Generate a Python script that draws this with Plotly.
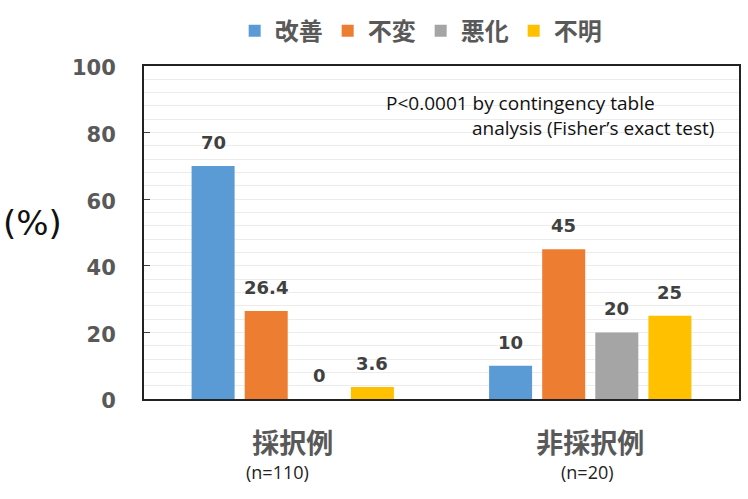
import plotly.graph_objects as go

categories = ["採択例", "非採択例"]
n_labels = ["(n=110)", "(n=20)"]
n_label_shift = [-15, -3]
series_names = ["改善", "不変", "悪化", "不明"]
improved = [70, 10]
unchanged = [26.4, 45]
worsened = [0, 20]
unknown = [3.6, 25]
series_values = [improved, unchanged, worsened, unknown]
series_colors = ["#5B9BD5", "#ED7D31", "#A5A5A5", "#FFC000"]
y_ticks = [0, 20, 40, 60, 80, 100]

JP = "Noto Sans CJK JP"
NUM = "DejaVu Sans"
BARGAP = 0.286

fig = go.Figure()
for i, (name, vals, col) in enumerate(zip(series_names, series_values, series_colors)):
    fig.add_trace(go.Bar(
        x=categories, y=vals, name=name,
        marker=dict(color=col, line=dict(width=0)),
        offsetgroup=str(i),
    ))

fig.update_layout(
    width=748, height=499,
    margin=dict(l=144, r=7, t=66, b=100),
    paper_bgcolor="white", plot_bgcolor="white",
    barmode="group", bargap=BARGAP, bargroupgap=0.19,
    legend=dict(
        orientation="h", x=0.465, xanchor="center", y=1.105, yanchor="middle",
        font=dict(family=JP, size=24, color="#595959", weight="bold"),
        itemwidth=30, tracegroupgap=0,
    ),
    showlegend=True,
)

# data labels above bars (positions from the category index and group layout)
n_series = len(series_values)
group_width = 1 - BARGAP
slot = group_width / n_series
for si, vals in enumerate(series_values):
    for ci, v in enumerate(vals):
        xpos = ci - group_width / 2 + slot * (si + 0.5)
        fig.add_annotation(x=xpos, y=v, xref="x", yref="y", text=f"<b>{v:g}</b>",
                           showarrow=False, yanchor="bottom", yshift=11,
                           font=dict(family=NUM, size=18, color="#404040"))

fig.update_yaxes(
    range=[0, 100], tickvals=y_ticks, ticktext=[f"<b>{t}</b>" for t in y_ticks],
    tickfont=dict(family=NUM, size=21, color="#595959"),
    ticks="inside", ticklen=6, tickcolor="#404040", tickwidth=1,
    ticklabelstandoff=22, ticklabelshift=2,
    showgrid=True, gridcolor="#ececec", gridwidth=1,
    minor=dict(dtick=4, showgrid=True, gridcolor="#ececec", gridwidth=1),
    showline=True, linecolor="#222222", linewidth=2, mirror=True,
    zeroline=False,
)
fig.update_xaxes(
    type="category",
    tickvals=categories, ticktext=[f"<b>{c}</b>" for c in categories],
    tickfont=dict(family=JP, size=27, color="#595959"),
    ticks="", ticklabelstandoff=20,
    showline=True, linecolor="#222222", linewidth=2, mirror=True,
)

for ci, (n, sh) in enumerate(zip(n_labels, n_label_shift)):
    fig.add_annotation(x=ci, y=-0.22, xref="x", yref="paper", text=n, showarrow=False,
                       xshift=sh,
                       font=dict(family="Open Sans", size=18, color="#222222"),
                       xanchor="center", yanchor="middle")

fig.add_annotation(x=-0.187, y=0.53, xref="paper", yref="paper", text="(%)", showarrow=False,
                   font=dict(family="DejaVu Sans", size=34, color="#111111"),
                   xanchor="center", yanchor="middle")

fig.add_annotation(x=0.403, y=0.89, xref="paper", yref="paper",
                   text="P<0.0001 by contingency table", showarrow=False,
                   font=dict(family="Open Sans", size=19, color="#111111"),
                   xanchor="left", yanchor="middle")
fig.add_annotation(x=0.962, y=0.815, xref="paper", yref="paper",
                   text="analysis (Fisher\u2019s exact test)", showarrow=False,
                   font=dict(family="Open Sans", size=19, color="#111111"),
                   xanchor="right", yanchor="middle")

fig.write_html("out.html")
